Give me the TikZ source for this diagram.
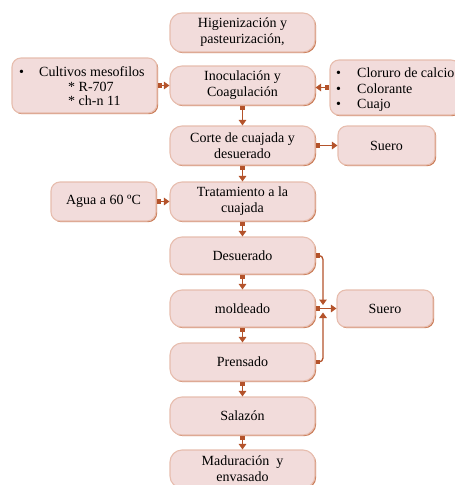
\documentclass[tikz,border=0pt]{standalone}
\usepackage{fontspec}
\setmainfont{Liberation Serif}
\usetikzlibrary{arrows.meta,shadows}
\definecolor{boxfill}{HTML}{F2DCDB}
\definecolor{boxlight}{HTML}{E7BDAE}
\definecolor{boxdark}{HTML}{C97A55}
\definecolor{conncol}{HTML}{B4532B}
\tikzset{
  box/.style={rectangle, rounded corners=12pt, fill=boxfill, draw=boxlight, line width=1.1pt,
    drop shadow={shadow xshift=1.2pt, shadow yshift=-1.2pt, fill=boxdark, opacity=1},
    align=center, inner sep=2pt, font=\fontsize{14}{16.2}\selectfont},
  sidebox/.style={box, rounded corners=9pt},
  txt/.style={inner sep=0pt, anchor=base west, font=\fontsize{14}{16.2}\selectfont},
  conn/.style={draw=conncol, line width=1.3pt, rounded corners=4pt,
    -{Triangle[length=5pt,width=7pt]}},
  connsq/.style={conn, {Square[length=4.5pt,width=4.5pt]}-{Triangle[length=5.5pt,width=7.5pt]}},
}
\begin{document}
\begin{tikzpicture}[x=1pt,y=-1pt]
\useasboundingbox (0,0) rectangle (455,485);
\begin{scope}
\clip (0,0) rectangle (455,485);
% main column
\node[box, minimum width=145pt, minimum height=39pt] (hig) at (242.5,32.5) {Higienización y\\pasteurización,};
\node[box, minimum width=145pt, minimum height=39pt] (ino) at (242.5,85.5) {Inoculación y\\Coagulación};
\node[box, minimum width=145pt, minimum height=39pt] (corte) at (242.5,145.5) {Corte de cuajada y\\desuerado};
\node[box, minimum width=145pt, minimum height=39pt] (trat) at (242.5,201.5) {Tratamiento a la\\cuajada};
\node[box, minimum width=145pt, minimum height=37pt] (desu) at (242.5,255.5) {Desuerado};
\node[box, minimum width=145pt, minimum height=37pt] (mold) at (242.5,308.5) {moldeado};
\node[box, minimum width=145pt, minimum height=38pt] (pren) at (242.5,362) {Prensado};
\node[box, minimum width=145pt, minimum height=38pt] (sal) at (242.5,416) {Salazón};
\node[box, minimum width=145pt, minimum height=38pt] (mad) at (242.5,469) {Maduración\enspace y\\envasado};
% side boxes
\node[sidebox, minimum width=145pt, minimum height=55pt] (cult) at (84.5,85.5) {};
\node[txt] (cb) at (19,76.5) {\textbullet};
\node[txt] (c1) at (39,76.5) {Cultivos mesofilos};
\node[txt] (c2) at (68,91) {* R-707};
\node[txt] (c3) at (68,105.5) {* ch-n 11};
\node[sidebox, minimum width=130pt, minimum height=55pt] (clo) at (395,87.5) {};
\node[txt] (lb1) at (336,77.5) {\textbullet};
\node[txt] (lb2) at (336,93) {\textbullet};
\node[txt] (lb3) at (336,108.5) {\textbullet};
\node[txt] (l1) at (357,77.5) {Cloruro de calcio};
\node[txt] (l2) at (357,93) {Colorante};
\node[txt] (l3) at (357,108.5) {Cuajo};
\node[sidebox, minimum width=97pt, minimum height=39pt] (suero1) at (386.5,145.5) {Suero};
\node[sidebox, minimum width=105pt, minimum height=39pt] (agua) at (103.5,201.5) {Agua a 60 ºC};
\node[sidebox, minimum width=96pt, minimum height=37pt] (suero2) at (385,308.5) {Suero};
\end{scope}
% connectors
\draw[connsq] (cult.east) -- (ino.west);
\draw[connsq] (clo.west) -- (clo.west -| ino.east);
\draw[connsq] (ino.south) -- (corte.north);
\draw[connsq] (corte.east) -- (suero1.west);
\draw[connsq] (corte.south) -- (trat.north);
\draw[connsq] (agua.east) -- (trat.west);
\draw[connsq] (trat.south) -- (desu.north);
\draw[connsq] (desu.south) -- (mold.north);
\draw[connsq] (mold.south) -- (pren.north);
\draw[connsq] (pren.south) -- (sal.north);
\draw[connsq] (sal.south) -- (mad.north);
\draw[connsq] (mold.east) -- (suero2.west);
\coordinate (jtop) at (323,305);
\coordinate (jbot) at (323,312.5);
\draw[connsq] (desu.east) -| (jtop);
\draw[connsq] (pren.east) -| (jbot);
\end{tikzpicture}
\end{document}
